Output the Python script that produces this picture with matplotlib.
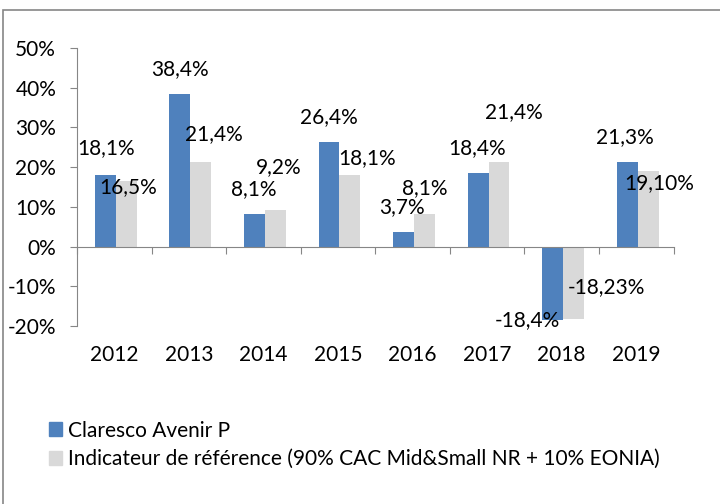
import matplotlib.pyplot as plt
from matplotlib.patches import Rectangle

plt.rcParams['font.family'] = ['Lato', 'DejaVu Sans']

years = ["2012", "2013", "2014", "2015", "2016", "2017", "2018", "2019"]
fund = [18.1, 38.4, 8.1, 26.4, 3.7, 18.4, -18.4, 21.3]
bench = [16.5, 21.4, 9.2, 18.1, 8.1, 21.4, -18.23, 19.10]
fund_labels = ["18,1%", "38,4%", "8,1%", "26,4%", "3,7%", "18,4%", "-18,4%", "21,3%"]
bench_labels = ["16,5%", "21,4%", "9,2%", "18,1%", "8,1%", "21,4%", "-18,23%", "19,10%"]
series_names = ["Claresco Avenir P",
                "Indicateur de référence (90% CAC Mid&Small NR + 10% EONIA)"]

# label placement (manual, as in the original chart)
fund_lab_pos = [(-0.11, 24.7), (-0.12, 44.6), (-0.13, 14.4), (-0.12, 32.5),
                (-0.14, 10.0), (-0.13, 24.9), (-0.46, -18.6), (-0.15, 27.5)]
bench_lab_pos = [(0.18, 14.9), (0.33, 28.2), (0.20, 19.9), (0.39, 22.4),
                 (0.16, 14.6), (0.36, 33.8), (0.60, -10.3), (0.31, 15.9)]

blue = "#4F81BD"
grey = "#D9D9D9"
axis_col = "#868686"
fs = 15

fig = plt.figure(figsize=(7.2, 5.04), dpi=100)
ax = fig.add_axes([77 / 720, 1 - 326 / 504, (673.5 - 77) / 720, (326 - 48) / 504])

x = list(range(len(years)))
w = 0.28
ax.bar([i - w / 2 + 0.02 for i in x], fund, w, color=blue)
ax.bar([i + w / 2 + 0.02 for i in x], bench, w, color=grey)

for i in x:
    ax.text(i + fund_lab_pos[i][0], fund_lab_pos[i][1], fund_labels[i],
            ha="center", va="center", fontsize=fs)
    ax.text(i + bench_lab_pos[i][0], bench_lab_pos[i][1], bench_labels[i],
            ha="center", va="center", fontsize=fs)

ax.set_xlim(-0.5, 7.5)
ax.set_ylim(-20, 50)
ax.set_yticks(range(-20, 51, 10))
ax.set_yticklabels([f"{v}%" for v in range(-20, 51, 10)], fontsize=fs)
ax.tick_params(axis="y", direction="out", length=5, color=axis_col, pad=10)

for s in ["top", "right"]:
    ax.spines[s].set_visible(False)
ax.spines["left"].set_color(axis_col)
ax.spines["bottom"].set_position(("data", 0))
ax.spines["bottom"].set_color(axis_col)
ax.set_xticks([i + 0.5 for i in range(-1, len(years))])
ax.set_xticklabels([])
ax.tick_params(axis="x", direction="out", length=5, color=axis_col)

for i, y in enumerate(years):
    ax.annotate(y, xy=(i, 0), xycoords=("data", "axes fraction"),
                xytext=(0, -21), textcoords="offset points",
                ha="center", va="center", fontsize=fs)

handles = [Rectangle((0, 0), 1, 1, color=blue), Rectangle((0, 0), 1, 1, color=grey)]
fig.legend(handles, series_names, loc="upper left", bbox_to_anchor=(30 / 720, 1 - 402 / 504),
           frameon=False, fontsize=fs, handlelength=0.65, handleheight=0.65,
           handletextpad=0.25, labelspacing=0.4)

fig.add_artist(Rectangle((3 / 720, -0.05), 1.0, 1 - 10 / 504 + 0.05,
                         transform=fig.transFigure, fill=False,
                         edgecolor=axis_col, linewidth=1.2))

fig.savefig("out.png", dpi=100)
